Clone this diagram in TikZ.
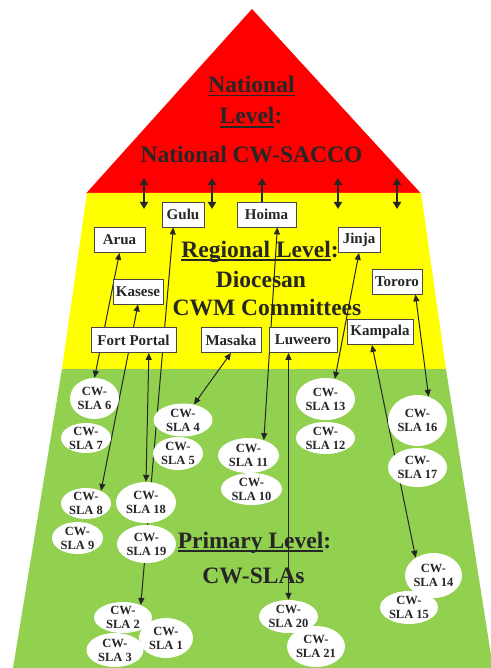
\documentclass[tikz,border=0pt]{standalone}
\usepackage{fontspec}
\setmainfont{Liberation Serif}
\usetikzlibrary{arrows.meta,shapes.geometric}
\definecolor{natred}{HTML}{FF0000}
\definecolor{regyellow}{HTML}{FFFF00}
\definecolor{primgreen}{HTML}{92D050}
\definecolor{ink}{HTML}{262626}
\pgfdeclarelayer{bg}\pgfdeclarelayer{lines}
\pgfsetlayers{bg,lines,main}
\newcommand{\ulin}[1]{\setbox0\hbox{#1}\rlap{\rule[-4pt]{\wd0}{1.6pt}}\box0}
\tikzset{
  diocese/.style={draw=ink!85,line width=0.8pt,fill=white,minimum height=25pt,inner xsep=2pt,text=ink,font=\fontsize{15}{17}\selectfont\bfseries},
  sla/.style={ellipse,fill=white,inner sep=-4pt,align=center,text=ink,font=\fontsize{12.5}{14}\selectfont\bfseries},
  link/.style={ink,line width=1pt,{Triangle[length=7pt,width=6pt]}-{Triangle[length=7pt,width=6pt]}},
  natlink/.style={ink,line width=2.2pt,-{Triangle[length=7pt,width=8pt]}},
  natboth/.style={ink,line width=2.2pt,{Triangle[length=7pt,width=8pt]}-{Triangle[length=7pt,width=8pt]}},
  lvl/.style={anchor=base,text=ink,font=\fontsize{23.5}{28}\selectfont\bfseries}
}
\begin{document}
\begin{tikzpicture}[x=1pt,y=-1pt]
\useasboundingbox (0,0) rectangle (490,668);
\begin{pgfonlayer}{bg}
\fill[natred] (252,9) -- (86,193.5) -- (421,193.5) -- cycle;
\fill[regyellow] (87,193) -- (421,193) -- (446,369) -- (62,369) -- cycle;
\fill[primgreen] (62,369) -- (446,369) -- (493,668) -- (13,668) -- cycle;
% level titles
\node[lvl] (natA) at (251.5,92.5) {\ulin{National}};
\node[lvl] (natB) at (251,124) {\ulin{Level}:};
\node[lvl] (natC) at (251.5,163) {National CW-SACCO};
\node[lvl] (regA) at (260,257) {\ulin{Regional Level}:};
\node[lvl] (regB) at (261,287) {Diocesan};
\node[lvl] (regC) at (267,315) {CWM Committees};
\node[lvl] (priA) at (254.5,548) {\ulin{Primary Level}:};
\node[lvl] (priB) at (253.5,583) {CW-SLAs};
\end{pgfonlayer}
% diocesan committees
\foreach \id/\x/\y/\w/\t in {gulu/183/214.5/42/Gulu, hoima/266.5/214.5/59/Hoima, arua/119.5/240/51/Arua,
  jinja/359/240/42/Jinja, kasese/138/291.5/50/Kasese, tororo/397/281.5/50/Tororo, fort/133.5/340/85/Fort Portal,
  masaka/231/340/60/Masaka, luweero/303/340/68/Luweero, kampala/380/332/66/Kampala}
  \node[diocese,minimum width=\w pt] (\id) at (\x,\y) {\t};
% savings and loan associations
\foreach \n/\x/\y/\w/\h in {2/123/617.5/58/31, 3/115/650/57/34, 1/166/638/54/40, 4/183/420/59/33, 5/178/453.5/50/33,
  6/94.5/398.5/49/41, 7/86/438/50/30, 8/86/503.5/50/31, 9/77.5/538/51/32, 10/251.5/489/61/32, 11/248.5/455.5/61/35,
  12/325.5/438/59/32, 13/325.5/399/59/42, 14/433.5/575.5/57/45, 15/409/607.5/58/33, 16/417.5/420.5/59/51,
  17/417.5/467.5/59/39, 18/146/502.5/60/41, 19/146.5/544/59/38, 20/288.5/616.5/59/33, 21/316/646.5/58/41}
  \node[sla,minimum width=\w pt,minimum height=\h pt] (sla\n) at (\x,\y) {CW-\\SLA \n};
\begin{pgfonlayer}{lines}
\foreach \i/\x in {1/144,2/212,3/262,4/338,5/397} \coordinate (top\i) at (\x,178);
\foreach \i/\x in {1/144,2/212,4/338,5/397} {
  \coordinate (low\i) at (\x,209);
  \draw[natboth] (top\i) -- (low\i);}
\draw[natlink] (hoima.north -| top3) -- (top3);
\draw[link] (arua.south) -- (sla6.north);
\draw[link] (kasese.south) -- (sla8.40);
\draw[link] (fort.-40) -- (sla18.north);
\draw[link] (gulu.-127) -- (sla2.35);
\draw[link] (hoima.-50) -- (sla11.45);
\draw[link] (masaka.south) -- (sla4.55);
\draw[link] (luweero.south -| sla20.north) -- (sla20.north);
\draw[link] (jinja.south) -- (sla13.65);
\draw[link] (tororo.-35) -- (sla16.65);
\draw[link] (kampala.-122) -- (sla14.135);
\end{pgfonlayer}
\end{tikzpicture}
\end{document}
